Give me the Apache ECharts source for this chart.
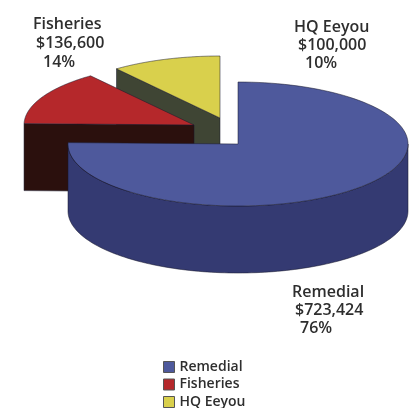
<!DOCTYPE html>
<html>
<head>
<meta charset="utf-8">
<style>html,body{margin:0;padding:0;background:#fff}#chart{width:420px;height:408px}</style>
<script src="https://cdn.jsdelivr.net/npm/echarts@6/dist/echarts.min.js"></script>
</head>
<body>
<div id="chart"></div>
<script>
// Budget split
const categories = ['Remedial', 'Fisheries', 'HQ Eeyou'];
const amounts = [723424, 136600, 100000];
const percentLabels = ['76%', '14%', '10%'];

// Slice colours: top face, wall
const topColors = ['#4e599c', '#b5282b', '#d9d04c'];
const wallColors = ['#343a72', '#2b100d', '#3f4534'];

// Disc geometry
const radiusX = 170, radiusY = 62, depth = 67;
const centers = [[238, 144], [194, 125], [220, 118]];

// Text blocks: per-line left edge and vertical centre
const labelLines = [
  [[292, 292], [295, 310], [300, 328]],
  [[33, 24], [36, 43], [43, 62]],
  [[294, 27], [298, 45], [305, 63]]
];

const FONT = '"Open Sans", "Noto Sans", sans-serif';
const total = amounts.reduce((a, b) => a + b, 0);

// Clockwise from twelve o'clock
function sweep(i) {
  const before = amounts.slice(0, i).reduce((a, b) => a + b, 0);
  return [before / total * 2 * Math.PI, (before + amounts[i]) / total * 2 * Math.PI];
}
function rim(c, a, dy) {
  return [c[0] + radiusX * Math.sin(a), c[1] - radiusY * Math.cos(a) + (dy || 0)];
}
function arc(c, a0, a1, dy) {
  const pts = [], n = 120;
  for (let k = 0; k <= n; k++) pts.push(rim(c, a0 + (a1 - a0) * k / n, dy));
  return pts;
}

function renderSlice(i) {
  const c = centers[i];
  const [a0, a1] = sweep(i);
  const stroke = 'rgba(25,25,45,0.75)';
  const children = [];
  const poly = (points, fill) => children.push({
    type: 'polygon', shape: { points },
    style: { fill, stroke, lineWidth: 0.7 }
  });

  // Cut face at the leading edge, seen only where it turns toward the viewer
  const edge = rim(c, a0);
  if (a0 > Math.PI) {
    poly([edge, c, [c[0], c[1] + depth], [edge[0], edge[1] + depth]], wallColors[i]);
  }
  // Outer wall: only the front half of the rim shows
  const front0 = Math.max(a0, Math.PI / 2), front1 = Math.min(a1, 3 * Math.PI / 2);
  if (front1 > front0) {
    poly(arc(c, front0, front1).concat(arc(c, front1, front0, depth)), wallColors[i]);
  }
  // Top face
  poly([c].concat(arc(c, a0, a1)), topColors[i]);

  // Name, amount and share
  const texts = [categories[i], '$' + amounts[i].toLocaleString('en-US'), percentLabels[i]];
  texts.forEach((t, j) => children.push({
    type: 'text',
    style: {
      text: t, x: labelLines[i][j][0], y: labelLines[i][j][1],
      fill: '#2e2e2e', font: '600 16px ' + FONT,
      textAlign: 'left', textVerticalAlign: 'middle'
    }
  }));
  return { type: 'group', children };
}

// Far slices first so nearer ones overlap them
const drawOrder = [2, 1, 0];

const chart = echarts.init(document.getElementById('chart'));
chart.setOption({
  backgroundColor: '#fff',
  animation: false,
  legend: {
    orient: 'vertical', left: 163, top: 360, height: 70,
    itemWidth: 11, itemHeight: 11, itemGap: 3.5,
    icon: 'rect', padding: 0,
    data: categories,
    textStyle: { fontFamily: FONT, fontSize: 14, fontWeight: 600, color: '#2e2e2e', padding: [0, 0, 0, 0] },
    itemStyle: { borderColor: '#555', borderWidth: 1 }
  },
  series: drawOrder.map((i, order) => ({
    type: 'custom',
    name: categories[i],
    coordinateSystem: 'none',
    z: order + 2,
    itemStyle: { color: topColors[i] },
    data: [[amounts[i]]],
    renderItem: () => renderSlice(i)
  }))
});
</script>
</body>
</html>
